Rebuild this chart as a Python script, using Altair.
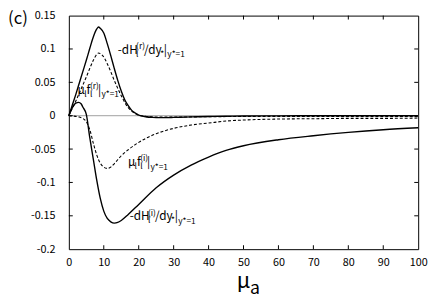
import altair as alt
import pandas as pd

FONT = "Noto Sans CJK JP"

# ---- data ----
A_X = [0, 1, 2, 3, 4, 5, 6, 7, 8, 8.5, 9, 10, 11, 12, 13, 14, 15, 16, 17, 18, 19, 20,
       22, 24, 26, 28, 30, 35, 40, 45, 50, 60, 70, 80, 90, 100]
# -dH_l^(r)/dy*  (solid)
A_Y = [0, 0.016, 0.032, 0.049, 0.066, 0.083, 0.101, 0.118, 0.130, 0.133, 0.131, 0.124,
       0.108, 0.090, 0.071, 0.053, 0.037, 0.024, 0.015, 0.008, 0.004, 0.001,
       -0.0015, -0.0025, -0.0028, -0.0028, -0.0025, -0.0018, -0.0012, -0.0008, -0.0005,
       -0.0002, 0, 0, 0, 0]
# mu_l f_l^(r)  (dashed)
B_Y = [0, 0.011, 0.022, 0.034, 0.046, 0.058, 0.071, 0.083, 0.092, 0.094, 0.093, 0.088,
       0.078, 0.066, 0.053, 0.041, 0.030, 0.020, 0.012, 0.007, 0.003, 0.001,
       -0.001, -0.0018, -0.002, -0.002, -0.002, -0.0018, -0.0015, -0.0013, -0.0012,
       -0.001, -0.001, -0.001, -0.001, -0.001]
# -dH_l^(i)/dy*  (solid)
C_X = [0, 1, 2, 2.8, 3.5, 4, 5, 6, 7, 8, 9, 10, 11, 12, 13, 14, 15, 17, 20, 25, 30, 35,
       40, 45, 50, 60, 70, 80, 90, 100]
C_Y = [0, 0.012, 0.019, 0.020, 0.018, 0.013, 0.002, -0.033, -0.065, -0.097, -0.124,
       -0.143, -0.154, -0.159, -0.161, -0.160, -0.157, -0.148, -0.133, -0.108, -0.089,
       -0.074, -0.062, -0.052, -0.045, -0.036, -0.030, -0.025, -0.021, -0.018]
# mu_l f_l^(i)  (dashed)
D_X = [0, 1, 2, 3, 4, 5, 6, 7, 8, 9, 10, 11, 12, 13, 14, 15, 17, 20, 25, 30, 35, 40, 45,
       50, 60, 70, 80, 90, 100]
D_Y = [0, -0.0005, -0.001, -0.002, -0.004, -0.009, -0.021, -0.041, -0.059, -0.071,
       -0.077, -0.079, -0.077, -0.072, -0.066, -0.060, -0.051, -0.040, -0.027, -0.019,
       -0.014, -0.011, -0.008, -0.0065, -0.005, -0.0045, -0.004, -0.004, -0.0035]

X_TICKS = [0, 10, 20, 30, 40, 50, 60, 70, 80, 90, 100]
Y_TICKS = [-0.2, -0.15, -0.1, -0.05, 0, 0.05, 0.1, 0.15]

# curve labels: anchor (data coords) and pieces (text, dx, dy, size)
LABEL_X = [14.0, 2.5, 16.9, 17.4]
LABEL_Y = [0.093, 0.033, -0.0755, -0.157]
LABEL_PIECES = [
    [("-dH", 0, 0, 12), ("l", 18.7, 3, 8.5), ("(r)", 18.7, -5, 8.5), ("/dy", 26.8, 0, 12),
     ("*", 43.2, 3, 8.5), ("|", 47, 0, 12), ("y*=1", 50.5, 3.5, 8.5)],
    [("μ", 0, 0, 12), ("l", 6.8, 3, 8.5), ("f", 9.2, 0, 12), ("l", 12.6, 3, 8.5),
     ("(r)", 12.6, -5, 8.5), ("|", 20.8, 0, 12), ("y*=1", 24.3, 3.5, 8.5)],
    [("μ", 0, 0, 12), ("l", 6.8, 3, 8.5), ("f", 9.2, 0, 12), ("l", 12.6, 3, 8.5),
     ("(i)", 12.6, -5, 8.5), ("|", 19.5, 0, 12), ("y*=1", 23, 3.5, 8.5)],
    [("-dH", 0, 0, 12), ("l", 18.7, 3, 8.5), ("(i)", 18.7, -5, 8.5), ("/dy", 25.8, 0, 12),
     ("*", 42.2, 3, 8.5), ("|", 46, 0, 12), ("y*=1", 49.5, 3.5, 8.5)],
]

W, H = 356, 238

rows = []
for name, style, xs, ys in [("dHr", "solid", A_X, A_Y), ("fr", "dash", A_X, B_Y),
                            ("dHi", "solid", C_X, C_Y), ("fi", "dash", D_X, D_Y)]:
    for x, y in zip(xs, ys):
        rows.append({"series": name, "style": style, "mu": x, "val": y})
df = pd.DataFrame(rows)

xscale = alt.Scale(domain=[0, 100], nice=False, zero=False)
yscale = alt.Scale(domain=[-0.2, 0.15], nice=False, zero=False)
xaxis = alt.Axis(values=X_TICKS, title=None, labelPadding=8, labelFlush=False,
                 labelOverlap=False)
yaxis = alt.Axis(values=Y_TICKS, title=None, labelPadding=14, labelFlush=False,
                 labelOverlap=False,
                 labelExpr="replace(format(datum.value, '.2~f'), '\u2212', '-')")
X = alt.X("mu:Q", scale=xscale, axis=xaxis)
Y = alt.Y("val:Q", scale=yscale, axis=yaxis)

layers = []
layers.append(alt.Chart(pd.DataFrame({"val": [0]})).mark_rule(
    color="#b4b4b4", strokeWidth=1.3).encode(y=Y))

inner_x = pd.DataFrame({"mu": X_TICKS[1:-1]})
inner_y = pd.DataFrame({"val": Y_TICKS[1:-1]})
layers.append(alt.Chart(inner_x).mark_rule(color="black", strokeWidth=1).encode(
    x=X, y=alt.value(H), y2=alt.value(H - 4)))
layers.append(alt.Chart(inner_x).mark_rule(color="black", strokeWidth=1).encode(
    x=X, y=alt.value(0), y2=alt.value(4)))
layers.append(alt.Chart(inner_y).mark_rule(color="black", strokeWidth=1).encode(
    y=Y, x=alt.value(0), x2=alt.value(4)))
layers.append(alt.Chart(inner_y).mark_rule(color="black", strokeWidth=1).encode(
    y=Y, x=alt.value(W), x2=alt.value(W - 4)))

layers.append(alt.Chart(df[df["style"] == "dash"]).mark_line(
    color="black", strokeWidth=1.1, strokeDash=[3, 2], interpolate="monotone").encode(
    x=X, y=Y, detail="series:N"))
layers.append(alt.Chart(df[df["style"] == "solid"]).mark_line(
    color="black", strokeWidth=1.4, interpolate="monotone").encode(
    x=X, y=Y, detail="series:N"))

for lx, ly, pieces in zip(LABEL_X, LABEL_Y, LABEL_PIECES):
    for text, dx, dy, size in pieces:
        layers.append(alt.Chart(pd.DataFrame({"mu": [lx], "val": [ly], "t": [text]})).mark_text(
            align="left", baseline="alphabetic", dx=dx, dy=dy, fontSize=size, font=FONT,
            color="black").encode(x=X, y=Y, text="t:N"))

# x-axis title  mu_a
layers.append(alt.Chart(pd.DataFrame({"mu": [50], "t": ["μ"]})).mark_text(
    align="left", baseline="alphabetic", dx=-7, fontSize=22, font=FONT, color="black").encode(
    x=X, y=alt.value(H + 40), text="t:N"))
layers.append(alt.Chart(pd.DataFrame({"mu": [50], "t": ["a"]})).mark_text(
    align="left", baseline="alphabetic", dx=6.5, fontSize=18, font=FONT, color="black").encode(
    x=X, y=alt.value(H + 46), text="t:N"))

# panel tag
layers.append(alt.Chart(pd.DataFrame({"t": ["(c)"]})).mark_text(
    align="left", baseline="top", fontSize=17, font=FONT, color="black").encode(
    x=alt.value(-62), y=alt.value(-4), text="t:N"))

chart = alt.layer(*layers).properties(
    width=W, height=H,
    padding={"left": 62, "top": 5, "right": 10, "bottom": 47},
    autosize=alt.AutoSizeParams(type="none"),
).configure_view(stroke="black", strokeWidth=1).configure_axis(
    domain=False, ticks=False, tickSize=0, grid=False, labelFont=FONT, labelFontSize=11,
    labelColor="black")

chart.save("out.html", embed_options={"renderer": "svg", "actions": False})
